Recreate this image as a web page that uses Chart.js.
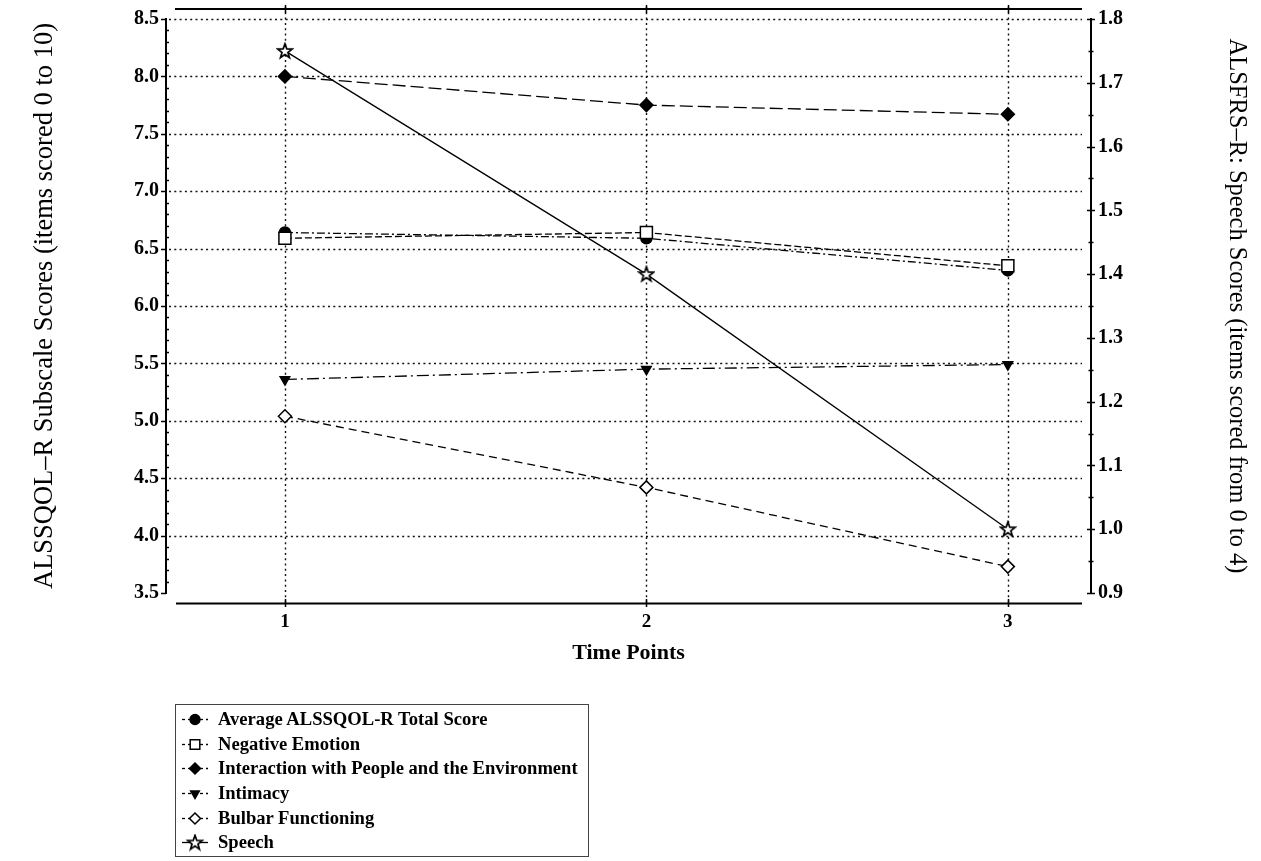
<!DOCTYPE html>
<html><head><meta charset="utf-8">
<script src="https://cdn.jsdelivr.net/npm/chart.js@4/dist/chart.umd.min.js"></script>
<style>
html,body{margin:0;padding:0;background:#fff;}
#wrap{position:relative;width:1261px;height:861px;overflow:hidden;}
#c{position:absolute;left:0;top:0;}
#legend{position:absolute;left:175px;top:704px;width:414px;height:153px;border:1px solid #444;box-sizing:border-box;padding-top:2px;font:bold 18.6px "Liberation Serif","Times New Roman",serif;color:#000;}
.row{display:flex;align-items:center;height:24.6px;white-space:nowrap;}
.row canvas{margin-left:2px;margin-right:8px;display:block;}
</style></head><body>
<div id="wrap"><canvas id="c" width="1261" height="861"></canvas><div id="legend"></div></div>
<script>
// ---- data ----
const timePoints = [1, 2, 3];
const seriesNames = ['Average ALSSQOL-R Total Score', 'Negative Emotion', 'Interaction with People and the Environment', 'Intimacy', 'Bulbar Functioning', 'Speech'];
const avgTotal    = [6.64, 6.59, 6.31];
const negEmotion  = [6.59, 6.64, 6.35];
const interaction = [8.00, 7.75, 7.67];
const intimacy    = [5.36, 5.45, 5.49];
const bulbar      = [5.04, 4.42, 3.73];
const speech      = [1.75, 1.40, 1.00];
const leftTickValues  = [3.5, 4.0, 4.5, 5.0, 5.5, 6.0, 6.5, 7.0, 7.5, 8.0, 8.5];
const rightTickValues = [0.9, 1.0, 1.1, 1.2, 1.3, 1.4, 1.5, 1.6, 1.7, 1.8];
const leftTitle  = 'ALSSQOL–R Subscale Scores (items scored 0 to 10)';
const rightTitle = 'ALSFRS–R: Speech Scores (items scored from 0 to 4)';
const xTitle = 'Time Points';

const F = '"Liberation Serif", "Times New Roman", serif';

function makeStar() {
  const c = document.createElement('canvas');
  c.width = 18; c.height = 18;
  const g = c.getContext('2d');
  g.beginPath();
  for (let i = 0; i < 10; i++) {
    const r = i % 2 ? 3.1 : 7.6;
    const a = -Math.PI / 2 + i * Math.PI / 5;
    g.lineTo(9 + r * Math.cos(a), 9.5 + r * Math.sin(a));
  }
  g.closePath();
  g.fillStyle = '#fff'; g.fill();
  g.lineWidth = 1.7; g.strokeStyle = '#000'; g.stroke();
  return c;
}
const star = makeStar();

const pts = arr => timePoints.map((t, i) => ({x: t, y: arr[i]}));

const datasets = [
  {label: seriesNames[0], data: pts(avgTotal), yAxisID: 'y', borderDash: [8, 3, 2, 3], pointStyle: 'circle', pointRadius: 5.5, pointBackgroundColor: '#000', order: 2},
  {label: seriesNames[1], data: pts(negEmotion), yAxisID: 'y', borderDash: [7, 3], pointStyle: 'rect', pointRadius: 8.5, pointBackgroundColor: '#fff', order: 1},
  {label: seriesNames[2], data: pts(interaction), yAxisID: 'y', borderDash: [13, 5], pointStyle: 'rectRot', pointRadius: 6.5, pointBackgroundColor: '#000', order: 3},
  {label: seriesNames[3], data: pts(intimacy), yAxisID: 'y', borderDash: [12, 4, 2, 4], pointStyle: 'triangle', pointRotation: 180, pointRadius: 5.5, pointBackgroundColor: '#000', order: 4},
  {label: seriesNames[4], data: pts(bulbar), yAxisID: 'y', borderDash: [8, 5], pointStyle: 'rectRot', pointRadius: 6.5, pointBackgroundColor: '#fff', order: 5},
  {label: seriesNames[5], data: pts(speech), yAxisID: 'y1', borderDash: [], pointStyle: star, pointRadius: 8, pointBackgroundColor: '#fff', order: 0}
];
datasets.forEach(d => {
  d.borderColor = '#000'; d.borderWidth = 1.3; d.pointBorderColor = '#000';
  d.pointBorderWidth = 1.5; d.tension = 0; d.fill = false; d.pointHoverRadius = d.pointRadius;
});

const decor = {
  id: 'decor',
  beforeDatasetsDraw(chart) {
    const {ctx, chartArea: a, scales: {x, y, y1}} = chart;
    ctx.save();
    ctx.strokeStyle = '#111';
    ctx.lineWidth = 1.4;
    ctx.setLineDash([2, 3.3]);
    leftTickValues.forEach(v => {
      if (v === leftTickValues[0]) return;
      const py = Math.round(y.getPixelForValue(v)) + 0.5;
      ctx.beginPath(); ctx.moveTo(a.left + 3, py); ctx.lineTo(a.right - 9, py); ctx.stroke();
    });
    timePoints.forEach(v => {
      const px = Math.round(x.getPixelForValue(v)) + 0.5;
      ctx.beginPath(); ctx.moveTo(px, a.top - 12); ctx.lineTo(px, a.bottom + 10); ctx.stroke();
    });
    ctx.setLineDash([]);
    ctx.strokeStyle = '#000';
    ctx.lineWidth = 1.8;
    ctx.beginPath();
    ctx.moveTo(a.left + 9, a.top - 10); ctx.lineTo(a.right - 9, a.top - 10);
    ctx.moveTo(a.left + 10, a.bottom + 10.5); ctx.lineTo(a.right - 9, a.bottom + 10.5);
    ctx.stroke();
    ctx.lineWidth = 1.5;
    ctx.beginPath();
    timePoints.forEach(v => {
      const px = Math.round(x.getPixelForValue(v)) + 0.5;
      ctx.moveTo(px, a.bottom + 6); ctx.lineTo(px, a.bottom + 14);
      ctx.moveTo(px, a.top - 14); ctx.lineTo(px, a.top - 6);
    });
    // left axis ticks: majors outward, minors inward
    for (let k = 0; k <= 50; k++) {
      const py = Math.round(y.getPixelForValue(3.5 + k * 0.1)) + 0.5;
      if (k % 5 === 0) { ctx.moveTo(a.left - 5, py); ctx.lineTo(a.left, py); }
      else { ctx.moveTo(a.left, py); ctx.lineTo(a.left + 3, py); }
    }
    // right axis ticks: crossing
    for (let k = 0; k <= 18; k++) {
      const py = Math.round(y1.getPixelForValue(0.9 + k * 0.05)) + 0.5;
      const h = k % 2 === 0 ? 4 : 2.5;
      ctx.moveTo(a.right - h, py); ctx.lineTo(a.right + h, py);
    }
    ctx.stroke();
    ctx.restore();
  }
};

const tickFont = {family: F, size: 20, weight: 'bold'};
const chart = new Chart(document.getElementById('c'), {
  type: 'line',
  data: {datasets},
  plugins: [decor],
  options: {
    responsive: false,
    animation: false,
    devicePixelRatio: 1,
    layout: {padding: {top: 18, bottom: 188, left: 0, right: 0}},
    plugins: {legend: {display: false}, tooltip: {enabled: false}},
    events: [],
    scales: {
      x: {
        type: 'linear', min: 0.671, max: 3.23,
        afterBuildTicks: s => { s.ticks = timePoints.map(v => ({value: v})); },
        grid: {display: false, drawTicks: false},
        border: {display: false},
        ticks: {padding: 18, color: '#000', font: {family: F, size: 19, weight: 'bold'}, callback: v => String(v), maxRotation: 0},
        title: {display: true, text: xTitle, color: '#000', font: {family: F, size: 22, weight: 'bold'}, padding: {top: 0, bottom: 6}},
        afterFit: s => { s.height = 80; }
      },
      y: {
        type: 'linear', position: 'left', min: 3.5, max: 8.5,
        afterBuildTicks: s => { s.ticks = leftTickValues.map(v => ({value: v})); },
        grid: {display: false, drawTicks: false},
        border: {display: true, color: '#000', width: 2},
        ticks: {padding: 7, color: '#000', font: tickFont, callback: v => Number(v).toFixed(1)},
        title: {display: true, text: leftTitle, color: '#000', font: {family: F, size: 26.5, weight: 'normal'}, padding: {top: 29, bottom: 0}},
        afterFit: s => { s.width = 166; }
      },
      y1: {
        type: 'linear', position: 'right', min: 0.9, max: 1.8,
        afterBuildTicks: s => { s.ticks = rightTickValues.map(v => ({value: v})); },
        grid: {display: false, drawTicks: false},
        border: {display: true, color: '#000', width: 2},
        ticks: {padding: 7, color: '#000', font: tickFont, callback: v => Number(v).toFixed(1)},
        title: {display: true, text: rightTitle, color: '#000', font: {family: F, size: 24.5, weight: 'normal'}, padding: {top: 10, bottom: 0}},
        afterFit: s => { s.width = 170; }
      }
    }
  }
});

// ---- HTML legend ----
function drawMarker(g, d, cx, cy) {
  const r = d.pointRadius;
  g.lineWidth = 1.5; g.strokeStyle = '#000'; g.fillStyle = d.pointBackgroundColor;
  const ps = d.pointStyle;
  if (ps instanceof HTMLCanvasElement) { g.drawImage(ps, cx - ps.width / 2, cy - ps.height / 2); return; }
  g.beginPath();
  if (ps === 'circle') g.arc(cx, cy, r * 0.9, 0, Math.PI * 2);
  else if (ps === 'rect') { const s = Math.SQRT1_2 * r * 0.8; g.rect(cx - s, cy - s, 2 * s, 2 * s); }
  else if (ps === 'rectRot') { const s = r * 0.85; g.moveTo(cx, cy - s); g.lineTo(cx + s, cy); g.lineTo(cx, cy + s); g.lineTo(cx - s, cy); g.closePath(); }
  else if (ps === 'triangle') { const s = r * 0.9; g.moveTo(cx - s * 0.87, cy - s * 0.5); g.lineTo(cx + s * 0.87, cy - s * 0.5); g.lineTo(cx, cy + s); g.closePath(); }
  g.fill(); g.stroke();
}
const leg = document.getElementById('legend');
datasets.forEach(d => {
  const row = document.createElement('div'); row.className = 'row';
  const cv = document.createElement('canvas'); cv.width = 32; cv.height = 20;
  const g = cv.getContext('2d');
  g.strokeStyle = '#000'; g.lineWidth = 1.3; g.setLineDash(d.borderDash.length ? [3, 3] : []);
  g.beginPath(); g.moveTo(4, 10.5); g.lineTo(30, 10.5); g.stroke();
  g.setLineDash([]);
  drawMarker(g, d, 17, 10.5);
  const t = document.createElement('span'); t.textContent = d.label;
  row.appendChild(cv); row.appendChild(t); leg.appendChild(row);
});
</script>
</body></html>
